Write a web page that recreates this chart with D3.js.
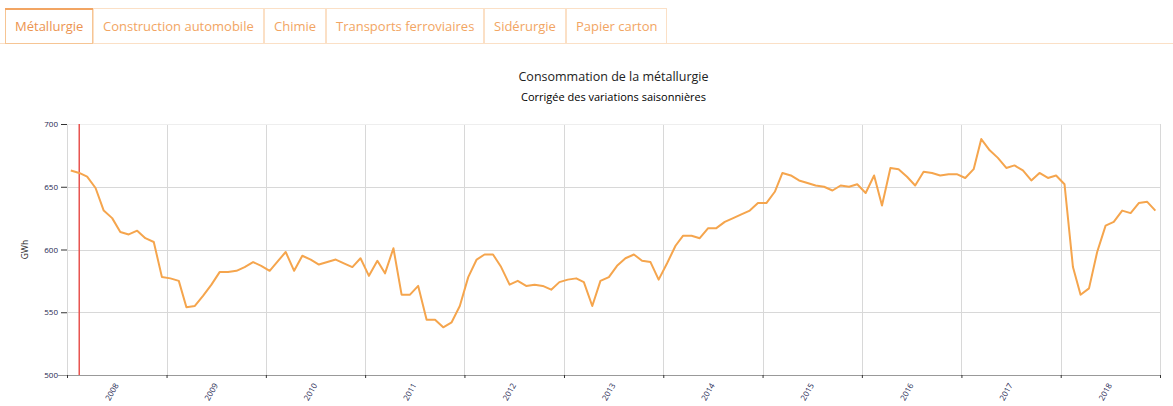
<!DOCTYPE html>
<html>
<head>
<meta charset="utf-8">
<script src="https://cdn.jsdelivr.net/npm/d3@7"></script>
<style>
  body { margin: 0; background: #fff; }
  svg { display: block; font-family: "Open Sans", sans-serif; }
</style>
</head>
<body>
<div id="chart"></div>
<script>
// tabs along the top
var tabs = ["Métallurgie", "Construction automobile", "Chimie", "Transports ferroviaires", "Sidérurgie", "Papier carton"];
var activeTab = 0;

// chart texts
var chartTitle = "Consommation de la métallurgie";
var chartSubtitle = "Corrigée des variations saisonnières";
var yLabel = "GWh";

// monthly consumption, Jan 2008 -> Dec 2018
var startYear = 2008;
var monthlyValues = [
  663, 661, 658, 649, 631, 625, 614, 612, 615, 609, 606, 578,
  577, 575, 554, 555, 563, 572, 582, 582, 583, 586, 590, 587,
  583, 591, 598, 583, 595, 592, 588, 590, 592, 589, 586, 593,
  579, 591, 581, 601, 564, 564, 571, 544, 544, 538, 542, 555,
  578, 592, 596, 596, 586, 572, 575, 571, 572, 571, 568, 574,
  576, 577, 574, 555, 575, 578, 587, 593, 596, 591, 590, 576,
  589, 603, 611, 611, 609, 617, 617, 622, 625, 628, 631, 637,
  637, 646, 661, 659, 655, 653, 651, 650, 647, 651, 650, 652,
  645, 659, 635, 665, 664, 658, 651, 662, 661, 659, 660, 660,
  657, 664, 688, 679, 673, 665, 667, 663, 655, 661, 657, 659,
  652, 586, 564, 569, 598, 619, 622, 631, 629, 637, 638, 631
];
var years = [2008, 2009, 2010, 2011, 2012, 2013, 2014, 2015, 2016, 2017, 2018];
var yTicks = [500, 550, 600, 650, 700];
var markerMonth = 1; // red marker on Feb 2008

var svgWidth = 1173;
var svgHeight = 406;

var chartMargin = { top: 124, right: 13, bottom: 31, left: 67 };
var chartWidth = svgWidth - chartMargin.left - chartMargin.right;
var chartHeight = svgHeight - chartMargin.top - chartMargin.bottom;

var svg = d3.select("#chart")
  .append("svg")
  .attr("width", svgWidth)
  .attr("height", svgHeight);

// ---- tabs ----
var tabColor = "#f2a563";
var tabBorder = "#fbe0c6";
var tabGroup = svg.append("g").attr("transform", "translate(5, 8)");
var tabHeight = 35;
var tx = 0;
tabs.forEach(function(name, i) {
  var g = tabGroup.append("g").attr("transform", `translate(${tx}, 0)`);
  var label = g.append("text")
    .attr("x", 10)
    .attr("y", 23)
    .style("font-size", "13px")
    .style("fill", tabColor)
    .text(name);
  var w = Math.round(label.node().getComputedTextLength() + 20);
  g.insert("rect", "text")
    .attr("x", 0.5)
    .attr("y", 0.5)
    .attr("width", w - 1)
    .attr("height", tabHeight)
    .attr("fill", "#fff")
    .attr("stroke", i === activeTab ? "#f6c594" : tabBorder);
  if (i === activeTab) {
    g.append("rect")
      .attr("x", 0)
      .attr("y", 0)
      .attr("width", w)
      .attr("height", 2)
      .attr("fill", "#f2a563");
    label.style("fill", "#ec9450");
  }
  tx += w;
});
// bottom line of the tab bar
svg.append("line")
  .attr("x1", 5 + tabGroup.select("g").node().getBBox().width)
  .attr("x2", svgWidth)
  .attr("y1", 8 + tabHeight + 0.5)
  .attr("y2", 8 + tabHeight + 0.5)
  .attr("stroke", tabBorder);
svg.append("line")
  .attr("x1", 0)
  .attr("x2", 5)
  .attr("y1", 8 + tabHeight + 0.5)
  .attr("y2", 8 + tabHeight + 0.5)
  .attr("stroke", tabBorder);

// ---- titles ----
svg.append("text")
  .attr("x", chartMargin.left + chartWidth / 2)
  .attr("y", 81)
  .attr("text-anchor", "middle")
  .style("font-size", "12.5px")
  .style("fill", "#222")
  .text(chartTitle);

svg.append("text")
  .attr("x", chartMargin.left + chartWidth / 2)
  .attr("y", 101)
  .attr("text-anchor", "middle")
  .style("font-size", "11px")
  .style("fill", "#000")
  .text(chartSubtitle);

var chartGroup = svg.append("g")
  .attr("transform", `translate(${chartMargin.left}, ${chartMargin.top})`);

// data with dates in the middle of each month
var data = monthlyValues.map(function(v, i) {
  return { date: new Date(startYear, i, 15), value: v };
});

var xTimeScale = d3.scaleTime()
  .domain([new Date(years[0], 0, 1), new Date(years[years.length - 1] + 1, 0, 1)])
  .range([0, chartWidth]);

var yLinearScale = d3.scaleLinear()
  .domain([yTicks[0], yTicks[yTicks.length - 1]])
  .range([chartHeight, 0]);

var yearStarts = years.map(y => new Date(y, 0, 1)).concat([new Date(years[years.length - 1] + 1, 0, 1)]);

// gridlines
chartGroup.append("g")
  .selectAll("line")
  .data(yearStarts)
  .enter()
  .append("line")
  .attr("x1", d => Math.round(xTimeScale(d)) + 0.5)
  .attr("x2", d => Math.round(xTimeScale(d)) + 0.5)
  .attr("y1", 0)
  .attr("y2", chartHeight)
  .attr("stroke", "#d8d8d8");

chartGroup.append("g")
  .selectAll("line")
  .data(yTicks.slice(1))
  .enter()
  .append("line")
  .attr("x1", 0)
  .attr("x2", chartWidth)
  .attr("y1", d => Math.round(yLinearScale(d)) + 0.5)
  .attr("y2", d => Math.round(yLinearScale(d)) + 0.5)
  .attr("stroke", d => d === 700 ? "#eee" : "#d8d8d8");

// axes
var leftAxis = d3.axisLeft(yLinearScale)
  .tickValues(yTicks)
  .tickSize(6)
  .tickPadding(3);

var yAxisG = chartGroup.append("g").call(leftAxis);
yAxisG.select(".domain").remove();
yAxisG.selectAll("line").attr("stroke", "#333");
yAxisG.selectAll("text")
  .style("font-size", "8px")
  .style("fill", "#1c2550")
  .style("font-family", "Open Sans, sans-serif");

var bottomAxis = d3.axisBottom(xTimeScale)
  .tickValues(yearStarts)
  .tickSize(3)
  .tickFormat("");

var xAxisG = chartGroup.append("g")
  .attr("transform", `translate(0, ${chartHeight})`)
  .call(bottomAxis);
xAxisG.select(".domain").attr("stroke", "#999").attr("d", `M-9,0.5H${chartWidth}`);
xAxisG.selectAll(".tick line").attr("stroke", "#333");

// year labels at mid-year
chartGroup.append("g")
  .selectAll("text")
  .data(years)
  .enter()
  .append("text")
  .attr("transform", d => `translate(${xTimeScale(new Date(d, 6, 1))}, ${chartHeight + 9}) rotate(-60)`)
  .attr("text-anchor", "end")
  .attr("dy", "0.35em")
  .style("font-size", "8px")
  .style("fill", "#1c2550")
  .text(d => d);

// y label
chartGroup.append("text")
  .attr("transform", "rotate(-90)")
  .attr("x", -chartHeight / 2)
  .attr("y", -39)
  .attr("text-anchor", "middle")
  .style("font-size", "8.5px")
  .style("fill", "#222")
  .text(yLabel);

// red marker
chartGroup.append("line")
  .attr("x1", xTimeScale(data[markerMonth].date))
  .attr("x2", xTimeScale(data[markerMonth].date))
  .attr("y1", 0)
  .attr("y2", chartHeight)
  .attr("stroke", "#e8534f")
  .attr("stroke-width", 1.5);

// the line
var line = d3.line()
  .x(d => xTimeScale(d.date))
  .y(d => yLinearScale(d.value));

chartGroup.append("path")
  .datum(data)
  .attr("d", line)
  .attr("fill", "none")
  .attr("stroke", "#f5a54d")
  .attr("stroke-width", 2)
  .attr("stroke-linejoin", "round");
</script>
</body>
</html>
